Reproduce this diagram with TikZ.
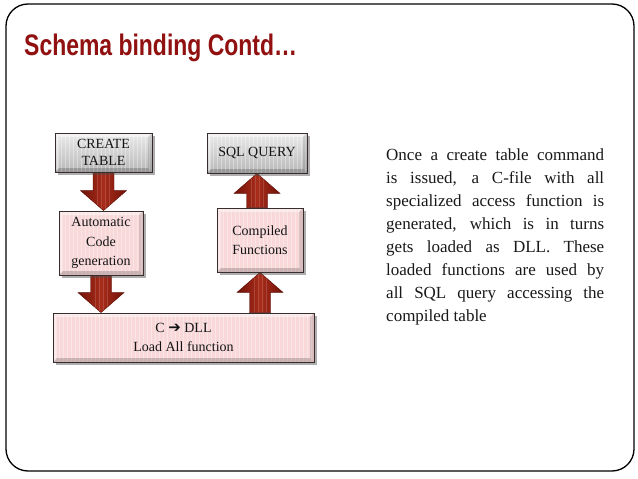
\documentclass[tikz,border=0pt]{standalone}
\usepackage{fontspec}
\setmainfont{Liberation Serif}
\newfontfamily\titlefont{Liberation Sans}
\newfontfamily\symfont{DejaVu Sans}
\usetikzlibrary{calc,shadows,backgrounds}
\definecolor{titlered}{RGB}{145,16,16}
\definecolor{arrowdark}{RGB}{112,18,8}
\definecolor{arrowmid}{RGB}{168,44,26}
\definecolor{pinkfill}{RGB}{248,216,217}
\definecolor{boxborder}{RGB}{55,45,45}
\newcommand\myDownArrow[2]{%
  \path[blockarrow] ($(#1)+(-10.5,0)$) -- ($(#2)+(-10.5,-20)$) -- ($(#2)+(-23,-20)$) -- (#2)
    -- ($(#2)+(23,-20)$) -- ($(#2)+(10.5,-20)$) -- ($(#1)+(10.5,0)$) -- cycle;}
\newcommand\myUpArrow[2]{%
  \path[blockarrow] ($(#1)+(-10.5,0)$) -- ($(#2)+(-10.5,20)$) -- ($(#2)+(-23,20)$) -- (#2)
    -- ($(#2)+(23,20)$) -- ($(#2)+(10.5,20)$) -- ($(#1)+(10.5,0)$) -- cycle;}
\tikzset{
  boxbase/.style={draw=boxborder, line width=0.8pt, inner sep=2pt, align=center,
    text=black!92,
    drop shadow={shadow xshift=2.5pt, shadow yshift=-3pt, opacity=.45, fill=black!70},
    path picture={
      \foreach \i in {2,6,...,270}
        \draw[white,opacity=.35,line width=.5pt]
          ([xshift=\i pt]path picture bounding box.south west) --
          ([xshift=\i pt]path picture bounding box.north west);
      \fill[white,opacity=.45]
          (path picture bounding box.north west) -- (path picture bounding box.north east)
          -- ([shift={(-4pt,-4pt)}]path picture bounding box.north east)
          -- ([shift={(4pt,-4pt)}]path picture bounding box.north west) -- cycle;
      \fill[white,opacity=.3]
          (path picture bounding box.north west) -- (path picture bounding box.south west)
          -- ([shift={(4pt,4pt)}]path picture bounding box.south west)
          -- ([shift={(4pt,-4pt)}]path picture bounding box.north west) -- cycle;
      \fill[black,opacity=.18]
          (path picture bounding box.south west) -- (path picture bounding box.south east)
          -- ([shift={(-4pt,4pt)}]path picture bounding box.south east)
          -- ([shift={(4pt,4pt)}]path picture bounding box.south west) -- cycle;
      \fill[black,opacity=.12]
          (path picture bounding box.north east) -- (path picture bounding box.south east)
          -- ([shift={(-4pt,4pt)}]path picture bounding box.south east)
          -- ([shift={(-4pt,-4pt)}]path picture bounding box.north east) -- cycle;
    }},
  graybox/.style={boxbase, top color=black!8, bottom color=black!28,
    font=\fontsize{14}{17}\selectfont},
  pinkbox/.style={boxbase, fill=pinkfill, font=\fontsize{14}{19.5}\selectfont},
  blockarrow/.style={left color=arrowdark, right color=arrowdark, middle color=arrowmid,
    draw=arrowdark!80!black, line width=.4pt,
    path picture={
      \foreach \i in {-6,-2,2,6}
        \draw[white,opacity=.15,line width=.6pt]
          ([xshift=\i pt]path picture bounding box.south) --
          ([xshift=\i pt]path picture bounding box.north);
    }}
}
\begin{document}
\begin{tikzpicture}[x=1pt,y=-1pt]
\useasboundingbox (0,0) rectangle (638,479);
\begin{scope}[on background layer]
  \fill[white] (0,0) rectangle (638,479);
\end{scope}
\draw[line width=1.3pt, rounded corners=22pt] (6,4) rectangle (634,471);

\node[anchor=base west, inner sep=0pt, text=titlered,
  font=\titlefont\bfseries\fontsize{27}{30}\selectfont] (title) at (24,55)
  {\scalebox{0.85}[1.1]{Schema binding Contd…}};

\node[graybox, minimum width=97pt, minimum height=39pt] (ct) at (103.5,152.5) {CREATE\\TABLE};
\node[graybox, minimum width=100pt, minimum height=40pt] (sql) at (257,153) {SQL QUERY};
\node[pinkbox, minimum width=84pt, minimum height=64pt] (acg) at (101,243) {Automatic\\Code\\generation};
\node[pinkbox, minimum width=86pt, minimum height=64pt] (cf) at (260,240) {Compiled\\Functions};
\node[pinkbox, minimum width=261pt, minimum height=49pt] (dll) at (183.5,337.5)
  {C {\symfont\bfseries\fontsize{15}{15}\selectfont ➔} DLL\\Load All function};

\coordinate (a1t) at (ct.south |- acg.north);
\coordinate (a2t) at (acg.south |- dll.north);
\coordinate (a3s) at (sql.south |- cf.north);
\coordinate (a4s) at (cf.south |- dll.north);
\begin{scope}[on background layer]
  \myDownArrow{ct.south}{a1t}
  \myDownArrow{acg.south}{a2t}
  \myUpArrow{a3s}{sql.south}
  \myUpArrow{a4s}{cf.south}
\end{scope}

\node[anchor=north west, inner sep=0pt, align=left, text=black!90,
  font=\fontsize{17}{23}\selectfont] (desc) at (386,149)
  {\makebox[218pt][s]{Once a create table command}\\
   \makebox[218pt][s]{is issued, a C-file with all}\\
   \makebox[218pt][s]{specialized access function is}\\
   \makebox[218pt][s]{generated, which is in turns}\\
   \makebox[218pt][s]{gets loaded as DLL. These}\\
   \makebox[218pt][s]{loaded functions are used by}\\
   \makebox[218pt][s]{all SQL query accessing the}\\
   compiled table};
\end{tikzpicture}
\end{document}
